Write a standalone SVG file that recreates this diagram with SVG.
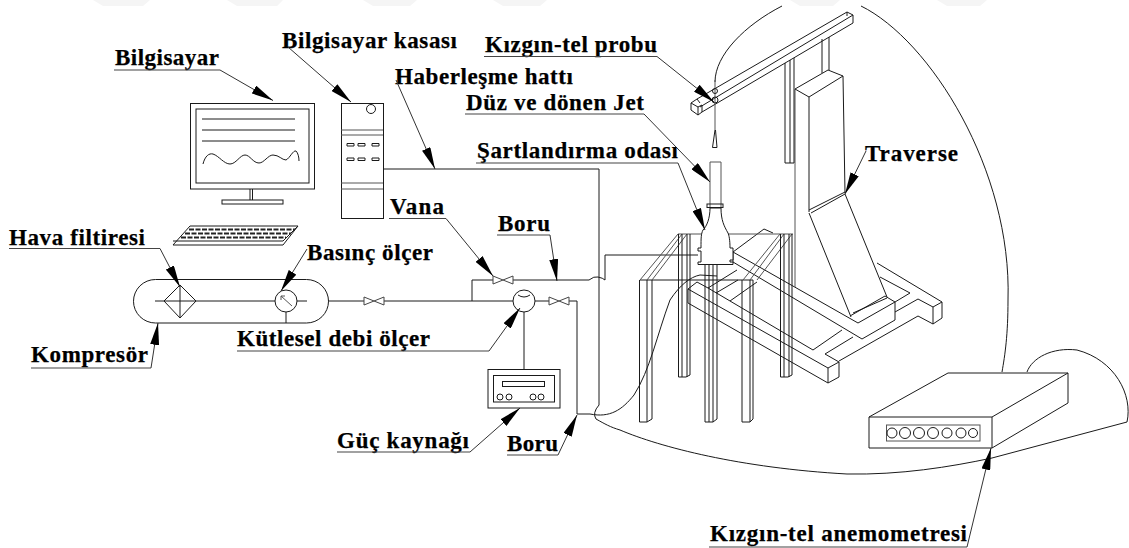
<svg xmlns="http://www.w3.org/2000/svg" width="1129" height="548" viewBox="0 0 1129 548">
<style>
text{font-family:"Liberation Serif","Times New Roman",serif;font-weight:bold;font-size:23px;fill:#000;stroke:#000;stroke-width:.25}
.l{fill:none;stroke:#1a1a1a;stroke-width:1}
.g{fill:none;stroke:#555;stroke-width:1}
.f{fill:#fff;stroke:#1a1a1a;stroke-width:1}
.u{fill:none;stroke:#444;stroke-width:1.100}
.a{fill:none;stroke:#333;stroke-width:1;marker-end:url(#ah)}
.w{fill:#f5f5f5}
</style>
<defs>
<marker id="ah" viewBox="0 0 22 9" refX="22" refY="4.500" markerWidth="22" markerHeight="9" markerUnits="userSpaceOnUse" orient="auto"><path d="M0 0L22 4.500L0 9Z" fill="#000"/></marker>
<path id="valve" d="M-10 -4L0 0L-10 4ZM10 -4L0 0L10 4Z" fill="#fff" stroke="#444"/>
</defs>
<rect width="1129" height="548" fill="#fff"/>
<g id="watermark">
<path class="w" d="M93 0H150L143 6H103ZM227 0H283L277 6H237ZM363 0H417L410 6H373ZM493 0H547L540 6H503ZM790 0H840L833 6H800ZM937 0H987L980 6H947Z"/>
</g>
<g id="enclosure">
<path class="l" d="M861 6C930 40 1012 170 1008 300C1008 335 1005 355 1002 372"/>
<path class="l" d="M782 6C745 25 715 55 715 82"/>
<path class="l" d="M596 419C605 424 610 427 620 430C660 447 740 468 847 474C900 475 950 467 992 458L1127 422C1133 395 1115 360 1077 350C1052 347 1032 358 1027 372"/>
</g>
<g id="connectors">
<path class="l" d="M383 169H599V405Q592 413 596 419"/>
<path class="l" d="M328 301H364M384 301H513M535 301H549M569 301H577V414H590C610 418 622 410 634 395C650 370 657 335 670 300C680 285 690 277 700 275L717 276"/>
<path class="l" d="M472 301V280H493M513 280H589Q594 276 598 277Q603 278 605 280V255H698"/>
<path class="l" d="M524 312V369"/>
</g>
<g id="bilgisayar">
<rect class="l" x="190.500" y="103.500" width="124" height="85.500"/>
<rect class="l" x="196" y="109" width="113" height="74"/>
<path class="l" d="M202 119H295M202 130H295M202 141H295"/>
<path class="l" d="M203 164C205 156 209 153 213 154C219 156 224 164 230 164C236 164 240 155 245 155C250 155 253 163 259 163C264 163 268 155 273 155C279 155 282 160 286 160C290 158 293 150 296 151C298 153 299 157 299 161"/>
<path class="l" d="M250 189V200M252.500 189V200"/>
<rect class="l" x="222" y="200" width="61" height="4"/>
</g>
<g id="klavye">
<path class="l" d="M190 226H298L283 245H173ZM173 241H283L298 226"/>
<path d="M189 229.500H295" stroke="#222" stroke-width="2" stroke-dasharray="5 1.500" fill="none"/>
<path d="M185 233.500H291" stroke="#222" stroke-width="2" stroke-dasharray="5 1.500" fill="none"/>
<path d="M181 237.500H286" stroke="#222" stroke-width="2" stroke-dasharray="5 1.500" fill="none"/>
</g>
<g id="kasa">
<rect class="l" x="341.500" y="103.500" width="42" height="115"/>
<circle class="l" cx="371" cy="109" r="4.500"/>
<path class="g" d="M341 130H383M341 135H383M341 183H383M341 189H383"/>
<path class="l" d="M347 143.500h7v2.500h-7zM358 143.500h7v2.500h-7zM372 143.500h7v2.500h-7zM347 158h7v2.500h-7zM358 158h7v2.500h-7zM372 158h7v2.500h-7z"/>
</g>
<g id="kompresor">
<rect class="l" x="133.500" y="279.500" width="195" height="43.500" rx="22" ry="22"/>
<path class="l" d="M155 301H275M297 301H307"/>
<path class="l" d="M180 285L196 301L180 318L164 301ZM180 285V318"/>
<circle class="l" cx="286" cy="301" r="11"/>
<path class="g" d="M292 306L281 296M281 296l4 0M281 296l0 4"/>
<path class="l" d="M286 312V323"/>
</g>
<g id="vanalar">
<use href="#valve" x="374" y="301"/>
<use href="#valve" x="503" y="280"/>
<use href="#valve" x="559" y="301"/>
</g>
<g id="debi-olcer">
<circle class="l" cx="524" cy="301" r="11"/>
<path class="l" d="M518 295Q524 299 530 295"/>
</g>
<g id="guc-kaynagi">
<rect class="l" x="488" y="369.500" width="72" height="38.500"/>
<rect class="l" x="493.500" y="375.500" width="61" height="26.500"/>
<rect class="l" x="502.500" y="381.500" width="42" height="5"/>
<circle class="l" cx="500" cy="397" r="3"/><circle class="l" cx="509" cy="397" r="3"/>
<circle class="l" cx="533" cy="397" r="3"/><circle class="l" cx="541" cy="397" r="3"/>
</g>
<g id="taban">
<path class="l" d="M688 289L697 282L708 288L737 270M688 289L828 368M708 288L813 350L842 330M688 289V303L828 383V368L839 362V377L828 383M716 293L738 280M730 301L757 282"/>
<path class="l" d="M733 252V262L862 339L895 320V302L858 323L733 252M733 252L764 229L773 233"/>
<path class="l" d="M850 316L885 296L895 302M853 313L887 298"/>
<path class="l" d="M877 263L942 302L933 307L918 299L895 312M880 277L910 293L895 302M933 307V324L942 318V302M933 324L918 316L839 361M825 354L853 337M825 354L839 362"/>
</g>
<g id="traverse">
<path class="g" d="M795 89V287"/>
<path class="l" d="M785 63V163H794V58M790 60V163"/>
<path class="l" d="M822 39V73M829 37V70"/>
<path class="l" d="M795 89L828 70L843 76L809 97ZM843 76L845 193M809 97V212M809 210L845 192M811 213L845 194M809 213L851 317M845 194L887 297"/>
<path class="l" d="M697 99L847 12L853 15V23L702 112M700 107L853 15M847 12V16"/>
<path class="l" d="M691 103L697 99L700 103M691 103V110L698 115L702 112V105L698 107L691 103M698 107V115"/>
</g>
<g id="prob">
<path class="g" d="M715 80V130" stroke-width="1.500"/>
<circle class="l" cx="715" cy="91" r="2.500"/><circle class="l" cx="715" cy="100" r="3"/>
<path class="l" d="M715 130L712.500 147.500H717L715.500 130"/>
</g>
<g id="masa">
<path class="g" d="M678 234H793"/>
<path class="l" d="M640 280H753"/>
<path class="g" d="M640 280L678 234M647 280L682 234M652 280L687 234M743 280L780 234M750 280L784 234M757 280L792 234"/>
<path class="l" d="M639.500 280V422H647L652 419V280M647 280V422"/>
<path class="l" d="M678.500 234V377H686L690 375V234M682 234V377M687 234V377"/>
<path class="l" d="M705 276V422H713L717 419V276M709 276V422M713 276V422"/>
<path class="l" d="M742 280V422H750L753 419V280M750 280V422"/>
<path class="l" d="M780.500 234V377H788L792 375V234M784 234V377M789 234V377"/>
</g>
<g id="jet">
<path class="g" d="M710 207V162H721V207"/>
<rect class="l" x="707" y="204" width="16" height="3.500"/>
<path class="f" d="M710 208C710 218 707 226 703 230C701 234 701 238 701 248H698V251H701V262H698V264.500H733V262H730V260H733V248H730C730 240 729 235 728 233C724 226 721 220 721 208Z"/>
<path class="l" d="M705 265V276M709 265V276M713 265V276M717 265V276"/>
</g>
<g id="anemometre">
<path class="f" d="M948 373H1068V403L992 448H869V417ZM869 417H992L1068 373M992 417V448"/>
<rect class="g" x="886.500" y="425" width="93.500" height="16"/>
<circle class="l" cx="892" cy="433" r="5"/><circle class="l" cx="905" cy="433" r="5.500"/><circle class="l" cx="919" cy="433" r="5.500"/><circle class="l" cx="933" cy="433" r="5.500"/><circle class="l" cx="947" cy="433" r="5"/><circle class="l" cx="961" cy="433" r="5"/><circle class="l" cx="973" cy="433" r="4.500"/>
</g>
<g id="etiketler">
<text x="115" y="65" textLength="104">Bilgisayar</text>
<path class="u" d="M114 70H220"/><path class="a" d="M220 70L273 100.500"/>
<text x="282" y="48" textLength="175">Bilgisayar kasası</text>
<path class="a" d="M288 47L351 102"/>
<text x="395" y="84" textLength="178">Haberleşme hattı</text>
<path class="a" d="M396 80L435 169"/>
<text x="485" y="52" textLength="172">Kızgın-tel probu</text>
<path class="u" d="M484 56.500H657"/><path class="a" d="M657 56.500L714 102"/>
<text x="466" y="110" textLength="178">Düz ve dönen Jet</text>
<path class="u" d="M465 114H644"/><path class="a" d="M644 114L710 182"/>
<text x="477" y="158" textLength="201">Şartlandırma odası</text>
<path class="u" d="M476 163H678"/><path class="a" d="M678 163L705 230"/>
<text x="865" y="161" textLength="93">Traverse</text>
<path class="a" d="M866 151L845 194"/>
<text x="390" y="214" textLength="54">Vana</text>
<path class="u" d="M389 218.500H446"/><path class="a" d="M446 218.500L493 276"/>
<text x="498" y="231" textLength="52">Boru</text>
<path class="u" d="M497 235H550"/><path class="a" d="M550 235L557 281"/>
<text x="9" y="245" textLength="136">Hava filtiresi</text>
<path class="u" d="M9 248.500H160"/><path class="a" d="M160 248.500L180 287"/>
<text x="307" y="260" textLength="126">Basınç ölçer</text>
<path class="a" d="M307 249L281 291"/>
<text x="31" y="362" textLength="117">Kompresör</text>
<path class="u" d="M31 368H151"/><path class="a" d="M151 368L158 323"/>
<text x="237" y="346" textLength="193">Kütlesel debi ölçer</text>
<path class="u" d="M237 351H489"/><path class="a" d="M489 351L520 308"/>
<text x="337" y="448" textLength="132">Güç kaynağı</text>
<path class="u" d="M337 452H470"/><path class="a" d="M470 452L520 408"/>
<text x="507" y="451" textLength="51">Boru</text>
<path class="u" d="M507 455H558"/><path class="a" d="M558 455L577 415"/>
<text x="710" y="541" textLength="257">Kızgın-tel anemometresi</text>
<path class="u" d="M709 547H967"/><path class="a" d="M967 547L991 448"/>
</g>
</svg>
